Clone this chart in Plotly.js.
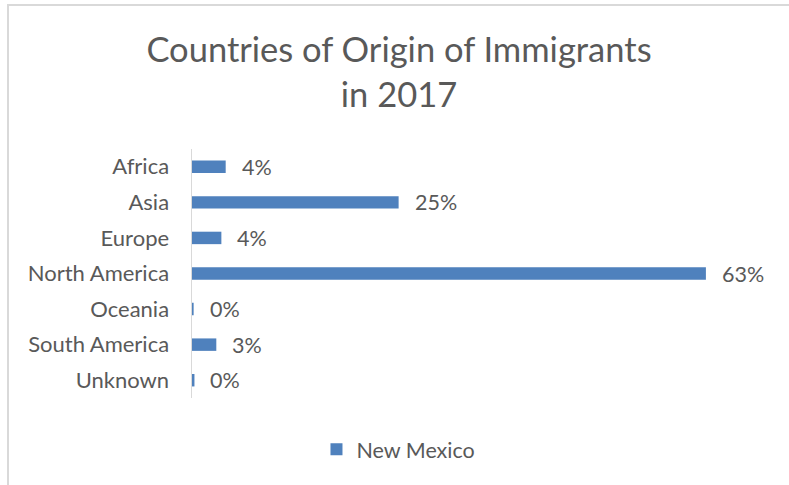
<!DOCTYPE html>
<html>
<head>
<meta charset="utf-8">
<script src="https://cdn.plot.ly/plotly-3.0.1.min.js"></script>
<style>
  html, body { margin: 0; padding: 0; background: #ffffff; }
  #wrap { position: relative; width: 789px; height: 485px; overflow: hidden; }
  #chart { position: absolute; left: 0; top: 0; width: 789px; height: 485px; }
  #frame { position: absolute; left: 7px; top: 4px; width: 800px; height: 500px;
           border-left: 2px solid #d9d9d9; border-top: 2px solid #d9d9d9;
           pointer-events: none; box-sizing: border-box; }
</style>
</head>
<body>
<div id="wrap">
  <div id="chart"></div>
  <div id="frame"></div>
</div>
<script>
// ---- data ----
const regions = ["Africa", "Asia", "Europe", "North America", "Oceania", "South America", "Unknown"];
const shares = [4.13, 25.33, 3.6, 63.0, 0.2, 2.98, 0.3];   // percent, New Mexico
const seriesName = "New Mexico";
const chartTitle = "Countries of Origin of Immigrants<br>in 2017";

const FONT = "Lato, 'Open Sans', sans-serif";
const GRAY = "#595959";
const BLUE = "#4f81bd";

const labels = shares.map(v => Math.round(v) + "%");

const trace = {
  type: "bar",
  orientation: "h",
  name: seriesName,
  y: regions,
  x: shares,
  marker: { color: BLUE },
  hoverinfo: "skip",
  showlegend: true
};

const annotations = regions.map((r, i) => ({
  x: shares[i], y: r, xref: "x", yref: "y",
  text: labels[i], showarrow: false,
  xanchor: "left", yanchor: "middle", xshift: 14,
  font: { family: FONT, size: 21.5, color: GRAY }
}));

const layout = {
  width: 789, height: 485,
  margin: { l: 192, r: 26, t: 149, b: 87, pad: 0 },
  paper_bgcolor: "#ffffff",
  plot_bgcolor: "#ffffff",
  font: { family: FONT, color: GRAY },
  title: {
    text: chartTitle,
    font: { family: FONT, size: 34.5, color: GRAY },
    x: 0.5057, xanchor: "center", xref: "container",
    y: 0.872, yanchor: "top", yref: "container"
  },
  bargap: 0.65,
  xaxis: {
    range: [0, 70], visible: false, showgrid: false, zeroline: false, fixedrange: true
  },
  yaxis: {
    type: "category",
    autorange: "reversed",
    showline: true, linecolor: "#d9d9d9", linewidth: 1.5,
    showgrid: false, zeroline: false,
    ticks: "outside", ticklen: 17, tickcolor: "rgba(0,0,0,0)",
    tickfont: { family: FONT, size: 22, color: GRAY },
    fixedrange: true
  },
  showlegend: true,
  legend: {
    orientation: "h",
    x: 0.218, xanchor: "left",
    y: -0.206, yanchor: "middle",
    font: { family: FONT, size: 21.5, color: GRAY },
    bgcolor: "rgba(0,0,0,0)"
  },
  annotations: annotations
};

Plotly.newPlot("chart", [trace], layout, { staticPlot: true, displayModeBar: false });
</script>
</body>
</html>
